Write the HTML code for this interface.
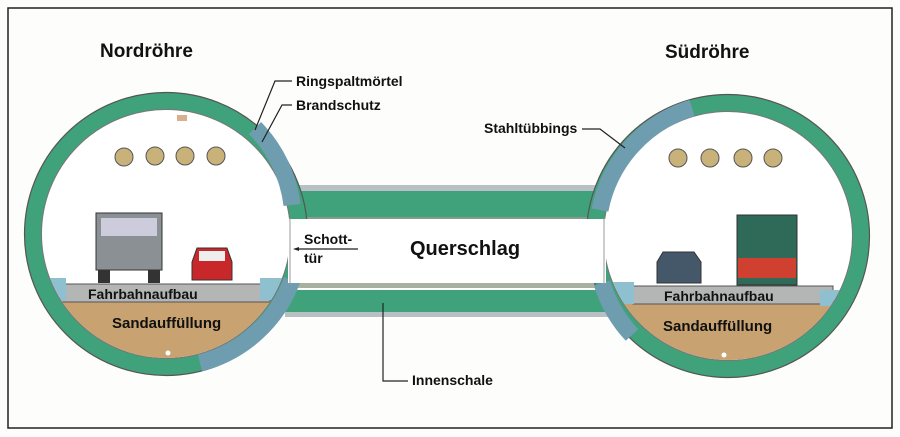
<!DOCTYPE html>
<html><head><meta charset="utf-8"><style>
html,body{margin:0;padding:0;background:#fff;}
svg{display:block;font-family:"Liberation Sans",Arial,sans-serif;font-weight:bold;}
</style></head><body>
<svg width="900" height="437" viewBox="0 0 900 437" xmlns="http://www.w3.org/2000/svg">
<defs>
<clipPath id="cl"><circle cx="166" cy="234" r="124"/></clipPath>
<clipPath id="cr"><circle cx="728" cy="236" r="124"/></clipPath>
</defs>
<rect x="0" y="0" width="900" height="437" fill="#fdfdfb"/>
<rect x="8" y="8" width="884" height="420" fill="none" stroke="#222" stroke-width="1.5"/>

<!-- cross passage -->
<rect x="285" y="185" width="325" height="6" fill="#b8c0c4"/>
<rect x="285" y="191" width="325" height="26" fill="#3fa27a"/>
<rect x="285" y="217" width="325" height="3" fill="#8a9a8a"/>
<rect x="285" y="283" width="325" height="5" fill="#a8b0a0"/>
<rect x="285" y="290" width="325" height="22" fill="#3fa27a"/>
<rect x="285" y="312" width="325" height="5" fill="#b8c0c4"/>

<!-- left tube -->
<circle cx="166" cy="234" r="124" fill="#fff"/>
<circle cx="166" cy="234" r="133" fill="none" stroke="#3fa27a" stroke-width="17"/>
<circle cx="166" cy="234" r="141.5" fill="none" stroke="#555" stroke-width="1.2"/>
<circle cx="166" cy="234" r="124.5" fill="none" stroke="#777" stroke-width="1"/>
<path d="M255 128 A133 133 0 0 1 292 205" fill="none" stroke="#6f9db0" stroke-width="17"/>
<path d="M292 280 A133 133 0 0 1 200 363" fill="none" stroke="#6f9db0" stroke-width="17"/>
<g clip-path="url(#cl)">
<rect x="20" y="300" width="300" height="120" fill="#c8a271"/>
<rect x="60" y="284" width="210" height="18" fill="#b4b6b6" stroke="#555"/>
<rect x="44" y="278" width="22" height="22" fill="#8fc0d0"/>
<rect x="260" y="278" width="22" height="22" fill="#8fc0d0"/>
</g>
<!-- right tube -->
<circle cx="728" cy="236" r="124" fill="#fff"/>
<circle cx="728" cy="236" r="133" fill="none" stroke="#3fa27a" stroke-width="17"/>
<circle cx="728" cy="236" r="141.5" fill="none" stroke="#555" stroke-width="1.2"/>
<circle cx="728" cy="236" r="124.5" fill="none" stroke="#777" stroke-width="1"/>
<path d="M692 108 A133 133 0 0 0 600 210" fill="none" stroke="#6f9db0" stroke-width="17"/>
<path d="M602 283 A133 133 0 0 0 632 335" fill="none" stroke="#6f9db0" stroke-width="17"/>
<g clip-path="url(#cr)">
<rect x="580" y="302" width="300" height="120" fill="#c8a271"/>
<rect x="633" y="286" width="200" height="18" fill="#b4b6b6" stroke="#555"/>
<rect x="612" y="282" width="22" height="22" fill="#8fc0d0"/>
<rect x="820" y="290" width="22" height="16" fill="#8fc0d0"/>
</g>
<!-- passage opening -->
<rect x="288" y="219" width="318" height="64" fill="#fff"/>
<line x1="290" y1="218" x2="290" y2="284" stroke="#999" stroke-width="1"/>
<line x1="604" y1="218" x2="604" y2="284" stroke="#999" stroke-width="1"/>

<!-- truck -->
<rect x="96" y="213" width="66" height="57" fill="#8a9094" stroke="#333"/>
<rect x="101" y="218" width="56" height="18" fill="#ccd" />
<rect x="98" y="270" width="12" height="13" fill="#333"/><rect x="148" y="270" width="12" height="13" fill="#333"/>
<!-- car -->
<path d="M192 262 L197 248 L227 248 L232 262 L232 280 L192 280Z" fill="#c8282a" stroke="#333"/>
<rect x="199" y="251" width="26" height="10" fill="#eee"/>
<g fill="#c9b27a" stroke="#555"><circle cx="124" cy="157" r="9"/><circle cx="155" cy="156" r="9"/><circle cx="185" cy="156" r="9"/><circle cx="216" cy="156" r="9"/></g>
<rect x="177" y="115" width="10" height="6" fill="#d8b090"/>
<circle cx="168" cy="353" r="2.5" fill="#fff"/>

<!-- bus -->
<rect x="737" y="215" width="60" height="70" fill="#2f6a58" stroke="#333"/>
<rect x="738" y="258" width="58" height="20" fill="#d04030"/>
<!-- car -->
<path d="M657 262 L663 252 L694 252 L701 262 L701 283 L657 283Z" fill="#44586a" stroke="#333"/>
<g fill="#c9b27a" stroke="#555"><circle cx="678" cy="158" r="9"/><circle cx="710" cy="158" r="9"/><circle cx="743" cy="158" r="9"/><circle cx="773" cy="158" r="9"/></g>
<circle cx="724" cy="355" r="2.5" fill="#fff"/>

<!-- labels -->
<g fill="#111">
<text x="100" y="57" font-size="19">Nordröhre</text>
<text x="665" y="58" font-size="19">Südröhre</text>
<text x="296" y="86" font-size="14">Ringspaltmörtel</text>
<text x="296" y="110" font-size="14">Brandschutz</text>
<text x="484" y="133" font-size="14">Stahltübbings</text>
<text x="410" y="255" font-size="20">Querschlag</text>
<text x="304" y="244" font-size="14">Schott-</text>
<text x="304" y="263" font-size="14">tür</text>
<text x="88" y="299" font-size="14">Fahrbahnaufbau</text>
<text x="664" y="301" font-size="14">Fahrbahnaufbau</text>
<text x="112" y="328" font-size="15">Sandauffüllung</text>
<text x="663" y="331" font-size="15">Sandauffüllung</text>
<text x="412" y="385" font-size="14">Innenschale</text>
</g>
<g fill="none" stroke="#222" stroke-width="1.2">
<path d="M292 81 L275 81 L255 130"/>
<path d="M292 105 L282 105 L262 142"/>
<path d="M582 129 L600 129 L625 148"/>
<path d="M358 249 L296 249"/>
<path d="M408 381 L383 381 L383 303"/>
</g>
<path d="M293 249 L299 247 L299 251Z" fill="#222"/>
</svg>
</body></html>
